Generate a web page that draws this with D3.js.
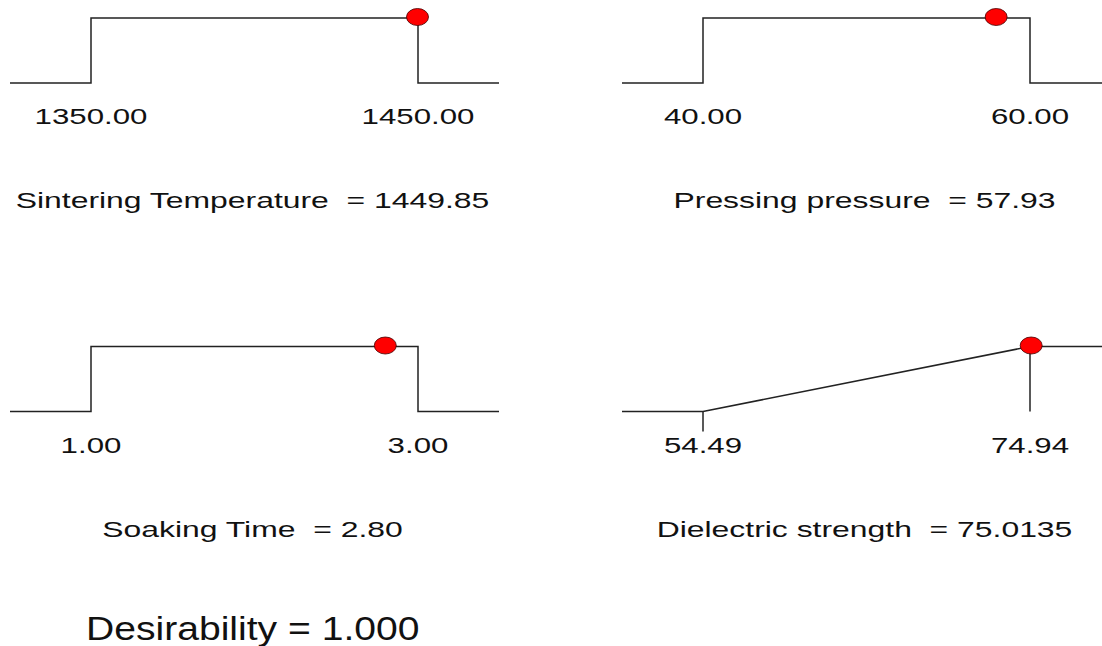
<!DOCTYPE html>
<html lang="en">
<head>
    <meta charset="UTF-8">
    <title>Desirability ramps</title>
    <script src="https://cdn.jsdelivr.net/npm/d3@7"></script>
    <style>
        body { margin: 0; background: #fff; }
        text { font-family: Arial, "Liberation Sans", sans-serif; fill: #111; white-space: pre; }
    </style>
</head>
<body>
<svg id="main" width="1102" height="646"></svg>
<script>
    // data
    let names = ['Sintering Temperature', 'Pressing pressure', 'Soaking Time', 'Dielectric strength'];
    let lows = [1350, 40, 1, 54.49];
    let highs = [1450, 60, 3, 74.94];
    let values = [1449.85, 57.93, 2.80, 75.0135];
    let valueLabels = ['1449.85', '57.93', '2.80', '75.0135'];
    let goals = ['range', 'range', 'range', 'maximize'];
    let desirability = '1.000';

    let svg = d3.select('svg#main');

    // panel layout
    let panelW = 489;
    let rampH = 65;
    let origins = [[10, 18], [622, 18], [10, 346.5], [622, 346.5]];

    // picture text is stretched sideways
    function stretchedText(g, x, y, str, size, sx, anchor) {
        return g.append('text')
            .attr('transform', 'translate(' + x + ',' + y + ') scale(' + sx + ',1)')
            .attr('text-anchor', anchor)
            .style('font-size', size + 'px')
            .text(str);
    }

    names.forEach(function (name, i) {
        let g = svg.append('g')
            .attr('transform', 'translate(' + origins[i][0] + ',' + origins[i][1] + ')');

        let x = d3.scaleLinear().domain([lows[i], highs[i]]).range([81, 408]);
        let y = d3.scaleLinear().domain([0, 1]).range([rampH, 0]);
        let left = x.invert(0), right = x.invert(panelW);

        let pts;
        if (goals[i] === 'range') {
            pts = [[left, 0], [lows[i], 0], [lows[i], 1], [highs[i], 1], [highs[i], 0], [right, 0]];
        } else {
            pts = [[left, 0], [lows[i], 0], [highs[i], 1], [right, 1]];
        }

        let line = d3.line()
            .x(function (d) { return x(d[0]); })
            .y(function (d) { return y(d[1]); });

        g.append('path')
            .datum(pts)
            .attr('d', line)
            .attr('fill', 'none')
            .style('stroke', '#222')
            .style('stroke-width', '1.5px');

        if (goals[i] === 'maximize') {
            // target drop line and low tick
            g.append('line')
                .attr('x1', x(highs[i])).attr('x2', x(highs[i]))
                .attr('y1', y(1)).attr('y2', y(0))
                .style('stroke', '#222').style('stroke-width', '1.5px');
            g.append('line')
                .attr('x1', x(lows[i])).attr('x2', x(lows[i]))
                .attr('y1', y(0)).attr('y2', y(0) + 20)
                .style('stroke', '#222').style('stroke-width', '1.5px');
        }

        // current setting
        g.append('ellipse')
            .attr('cx', x(values[i]))
            .attr('cy', y(1) - 1)
            .attr('rx', 11).attr('ry', 8.5)
            .attr('fill', '#ff0000')
            .style('stroke', '#400').style('stroke-width', '0.8px');

        stretchedText(g, x(lows[i]), rampH + 41, lows[i].toFixed(2), 22, 1.42, 'middle');
        stretchedText(g, x(highs[i]), rampH + 41, highs[i].toFixed(2), 22, 1.42, 'middle');
        stretchedText(g, panelW / 2 - 2, rampH + 125, name + '  = ' + valueLabels[i], 22, 1.45, 'middle');
    });

    stretchedText(svg, 86, 640, 'Desirability = ' + desirability, 34, 1.15, 'start');
</script>
</body>
</html>
